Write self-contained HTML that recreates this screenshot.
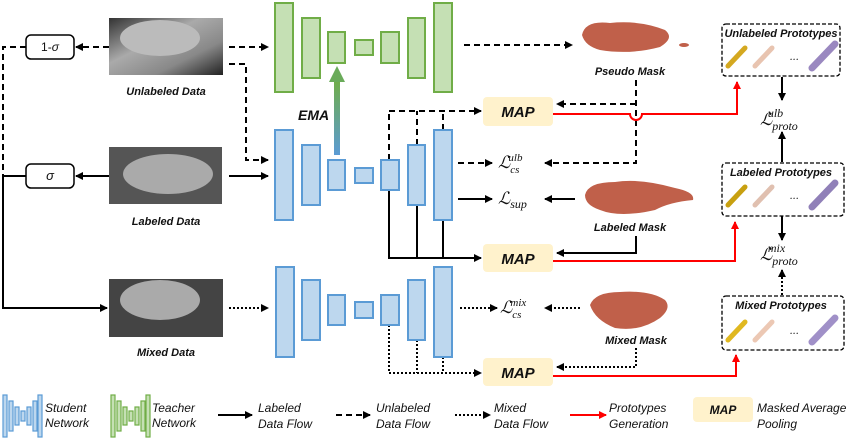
<!DOCTYPE html>
<html><head><meta charset="utf-8"><style>
body{margin:0;background:#fff}
svg text{font-family:"Liberation Sans",sans-serif;font-style:italic;font-weight:bold;font-size:11px;fill:#111}
.L{font-family:"Liberation Serif",serif;font-style:italic;font-weight:normal;font-size:17px}
.lg{font-weight:normal;font-size:12px}
.map{font-size:15px;font-weight:bold}
</style></head><body>
<svg width="848" height="440" viewBox="0 0 848 440" xmlns="http://www.w3.org/2000/svg">
<defs>
<marker id="a" markerWidth="8" markerHeight="8" refX="7" refY="4" orient="auto" markerUnits="userSpaceOnUse"><path d="M0,0 L8,4 L0,8z" fill="#000"/></marker>
<marker id="r" markerWidth="8" markerHeight="8" refX="7" refY="4" orient="auto" markerUnits="userSpaceOnUse"><path d="M0,0 L8,4 L0,8z" fill="#f00"/></marker>
<linearGradient id="ema" x1="0" y1="1" x2="0" y2="0"><stop offset="0" stop-color="#5b9bd5"/><stop offset="1" stop-color="#70ad47"/></linearGradient>
<linearGradient id="img" x1="0" y1="0" x2="1" y2="1"><stop offset="0" stop-color="#333"/><stop offset=".4" stop-color="#aaa"/><stop offset=".7" stop-color="#888"/><stop offset="1" stop-color="#222"/></linearGradient>
</defs>
<g stroke="#000" stroke-width="2" fill="none">
<path d="M109,47 H76" stroke-dasharray="6,4" marker-end="url(#a)"/>
<path d="M26,47 H3 V176" stroke-dasharray="6,4"/>
<path d="M109,176 H76" marker-end="url(#a)"/>
<path d="M26,176 H3 V308 H107" marker-end="url(#a)"/>
<path d="M229,47 H268" stroke-dasharray="6,4" marker-end="url(#a)"/>
<path d="M229,64 H246 V160 H268" stroke-dasharray="6,4" marker-end="url(#a)"/>
<path d="M229,176 H268" marker-end="url(#a)"/>
<path d="M229,308 H268" stroke-dasharray="2,2" marker-end="url(#a)"/>
<path d="M464,45 H572" stroke-dasharray="6,4" marker-end="url(#a)"/>
<path d="M389,160 V111 M417,145 V111 M443,130 V111" stroke-dasharray="6,4"/>
<path d="M389,111 H481" stroke-dasharray="6,4" marker-end="url(#a)"/>
<path d="M636,80 V163 H545" stroke-dasharray="6,4" marker-end="url(#a)"/>
<path d="M636,104 H557" stroke-dasharray="6,4" marker-end="url(#a)"/>
<path d="M458,163 H492" stroke-dasharray="6,4" marker-end="url(#a)"/>
<path d="M458,199 H492" marker-end="url(#a)"/>
<path d="M575,199 H545" marker-end="url(#a)"/>
<path d="M389,190 V258 M417,205 V258 M443,220 V258"/>
<path d="M388,258 H481" marker-end="url(#a)"/>
<path d="M636,236 V253 H557" marker-end="url(#a)"/>
<path d="M460,308 H497" stroke-dasharray="2,2" marker-end="url(#a)"/>
<path d="M580,308 H545" stroke-dasharray="2,2" marker-end="url(#a)"/>
<path d="M636,348 V367 H557" stroke-dasharray="2,2" marker-end="url(#a)"/>
<path d="M389,325 V373 M417,340 V373 M443,357 V373" stroke-dasharray="2,2"/>
<path d="M389,373 H481" stroke-dasharray="2,2" marker-end="url(#a)"/>
<path d="M782,77 V100" marker-end="url(#a)"/>
<path d="M782,162 V132" marker-end="url(#a)"/>
<path d="M782,216 V240" marker-end="url(#a)"/>
<path d="M782,295 V270" stroke-dasharray="2,2" marker-end="url(#a)"/>
</g>
<g stroke="#f00" stroke-width="2" fill="none">
<path d="M553,114 H630 A6,6 0 0 0 642,114 H737 V82" marker-end="url(#r)"/>
<path d="M553,261 H735 V222" marker-end="url(#r)"/>
<path d="M553,376 H736 V355" marker-end="url(#r)"/>
</g>
<rect x="26" y="35" width="48" height="24" rx="5" fill="#fff" stroke="#000" stroke-width="1.5"/>
<text x="50" y="51" text-anchor="middle" style="font-weight:normal;font-style:normal;font-size:12px">1-<tspan style="font-style:italic">σ</tspan></text>
<rect x="26" y="164" width="48" height="24" rx="5" fill="#fff" stroke="#000" stroke-width="1.5"/>
<text x="50" y="180" text-anchor="middle" style="font-weight:normal;font-size:13px">σ</text>
<rect x="109" y="18" width="114" height="57" fill="url(#img)"/>
<ellipse cx="160" cy="38" rx="40" ry="18" fill="#bbb"/>
<rect x="109" y="147" width="113" height="57" fill="#555"/>
<ellipse cx="168" cy="174" rx="45" ry="20" fill="#aaa"/>
<rect x="109" y="279" width="114" height="58" fill="#444"/>
<ellipse cx="160" cy="300" rx="40" ry="20" fill="#aaa"/>
<text x="166" y="95" text-anchor="middle">Unlabeled Data</text>
<text x="166" y="225" text-anchor="middle">Labeled Data</text>
<text x="166" y="356" text-anchor="middle">Mixed Data</text>
<g fill="#c5e0b4" stroke="#70ad47" stroke-width="2">
<rect x="275" y="3" width="18" height="89"/><rect x="302" y="18" width="18" height="60"/><rect x="328" y="32" width="17" height="31"/><rect x="355" y="40" width="18" height="15"/><rect x="381" y="32" width="18" height="31"/><rect x="408" y="18" width="17" height="60"/><rect x="434" y="3" width="18" height="89"/>
</g>
<g fill="#bdd7ee" stroke="#5b9bd5" stroke-width="2">
<rect x="275" y="130" width="18" height="90"/><rect x="302" y="145" width="18" height="60"/><rect x="328" y="160" width="17" height="30"/><rect x="355" y="168" width="18" height="15"/><rect x="381" y="160" width="18" height="30"/><rect x="408" y="145" width="17" height="60"/><rect x="434" y="130" width="18" height="90"/>
<rect x="276" y="267" width="18" height="90"/><rect x="302" y="280" width="18" height="60"/><rect x="328" y="295" width="17" height="30"/><rect x="355" y="302" width="18" height="16"/><rect x="381" y="295" width="18" height="30"/><rect x="408" y="280" width="17" height="60"/><rect x="434" y="267" width="18" height="90"/>
</g>
<rect x="334" y="80" width="6" height="75" fill="url(#ema)"/>
<path d="M329,82 L337,66 L345,82z" fill="#6aab5a"/>
<text x="298" y="120" style="font-size:14px">EMA</text>
<g fill="#fff2cc"><rect x="483" y="97" width="70" height="29" rx="4"/><rect x="483" y="244" width="70" height="28" rx="4"/><rect x="483" y="358" width="70" height="28" rx="4"/></g>
<text class="map" x="518" y="117" text-anchor="middle">MAP</text>
<text class="map" x="518" y="264" text-anchor="middle">MAP</text>
<text class="map" x="518" y="378" text-anchor="middle">MAP</text>
<text class="L" x="498" y="168">ℒ<tspan dy="5" font-size="11">cs</tspan><tspan dx="-11" dy="-12" font-size="11">ulb</tspan></text>
<text class="L" x="498" y="204">ℒ<tspan dy="4" font-size="12">sup</tspan></text>
<text class="L" x="500" y="313">ℒ<tspan dy="5" font-size="11">cs</tspan><tspan dx="-11" dy="-12" font-size="11">mix</tspan></text>
<text class="L" x="760" y="125">ℒ<tspan dy="5" font-size="12">proto</tspan><tspan dx="-30" dy="-13" font-size="12">ulb</tspan></text>
<text class="L" x="760" y="260">ℒ<tspan dy="5" font-size="12">proto</tspan><tspan dx="-30" dy="-13" font-size="12">mix</tspan></text>
<g fill="#c0604a">
<path d="M582,35 Q585,20 610,23 Q640,20 665,30 Q675,38 660,47 Q630,55 600,50 Q585,46 582,35z"/>
<ellipse cx="684" cy="45" rx="5" ry="2"/>
<path d="M585,195 Q588,182 615,182 Q640,178 675,188 Q695,192 693,200 Q670,202 655,210 Q620,218 600,210 Q585,205 585,195z"/>
<path d="M590,305 Q595,292 620,292 Q650,290 665,300 Q672,308 660,318 Q640,332 615,328 Q595,320 590,305z"/>
</g>
<text x="630" y="75" text-anchor="middle">Pseudo Mask</text>
<text x="630" y="231" text-anchor="middle">Labeled Mask</text>
<text x="636" y="344" text-anchor="middle">Mixed Mask</text>
<g fill="none" stroke="#000" stroke-width="1.3" stroke-dasharray="4,2">
<rect x="722" y="24" width="118" height="52" rx="4"/><rect x="722" y="163" width="122" height="53" rx="4"/><rect x="722" y="296" width="122" height="54" rx="4"/>
</g>
<text x="781" y="37" text-anchor="middle">Unlabeled Prototypes</text>
<text x="781" y="176" text-anchor="middle">Labeled Prototypes</text>
<text x="781" y="309" text-anchor="middle">Mixed Prototypes</text>
<g stroke-linecap="round">
<g stroke-width="5"><path d="M728,66 L745,48" stroke="#d4a820"/><path d="M755,66 L772,48" stroke="#e8c4b0"/><path d="M812,68 L835,44" stroke="#9a88c0" stroke-width="7"/></g>
<g stroke-width="5"><path d="M728,205 L745,187" stroke="#c8a010"/><path d="M755,205 L772,187" stroke="#e0c0b0"/><path d="M812,207 L835,183" stroke="#9080b8" stroke-width="7"/></g>
<g stroke-width="5"><path d="M728,340 L745,322" stroke="#e0b820"/><path d="M755,340 L772,322" stroke="#ecc8b4"/><path d="M812,342 L835,318" stroke="#a090c8" stroke-width="7"/></g>
</g>
<text x="790" y="60" style="font-weight:normal">...</text>
<text x="790" y="199" style="font-weight:normal">...</text>
<text x="790" y="334" style="font-weight:normal">...</text>
<g fill="#bdd7ee" stroke="#5b9bd5" stroke-width="1.2">
<rect x="3" y="395" width="4" height="42"/><rect x="9" y="401" width="4" height="30"/><rect x="15" y="407" width="4" height="18"/><rect x="21" y="411" width="4" height="10"/><rect x="27" y="407" width="4" height="18"/><rect x="33" y="401" width="4" height="30"/><rect x="38" y="395" width="4" height="42"/>
</g>
<g fill="#c5e0b4" stroke="#70ad47" stroke-width="1.2">
<rect x="111" y="395" width="4" height="42"/><rect x="117" y="401" width="4" height="30"/><rect x="123" y="407" width="4" height="18"/><rect x="129" y="411" width="4" height="10"/><rect x="135" y="407" width="4" height="18"/><rect x="141" y="401" width="4" height="30"/><rect x="146" y="395" width="4" height="42"/>
</g>
<g stroke-width="2" fill="none">
<path d="M218,415 H252" stroke="#000" marker-end="url(#a)"/>
<path d="M336,415 H370" stroke="#000" stroke-dasharray="6,4" marker-end="url(#a)"/>
<path d="M455,415 H490" stroke="#000" stroke-dasharray="2,2" marker-end="url(#a)"/>
<path d="M570,415 H606" stroke="#f00" marker-end="url(#r)"/>
</g>
<rect x="693" y="397" width="60" height="25" rx="4" fill="#fff2cc"/>
<text x="723" y="414" text-anchor="middle" style="font-size:12px">MAP</text>
<text class="lg" x="45" y="412">Student</text><text class="lg" x="45" y="427">Network</text>
<text class="lg" x="152" y="412">Teacher</text><text class="lg" x="152" y="427">Network</text>
<text class="lg" x="258" y="412">Labeled</text><text class="lg" x="258" y="428">Data Flow</text>
<text class="lg" x="376" y="412">Unlabeled</text><text class="lg" x="376" y="428">Data Flow</text>
<text class="lg" x="494" y="412">Mixed</text><text class="lg" x="494" y="428">Data Flow</text>
<text class="lg" x="609" y="412">Prototypes</text><text class="lg" x="609" y="428">Generation</text>
<text class="lg" x="757" y="412">Masked Average</text><text class="lg" x="757" y="428">Pooling</text>
</svg>
</body></html>
